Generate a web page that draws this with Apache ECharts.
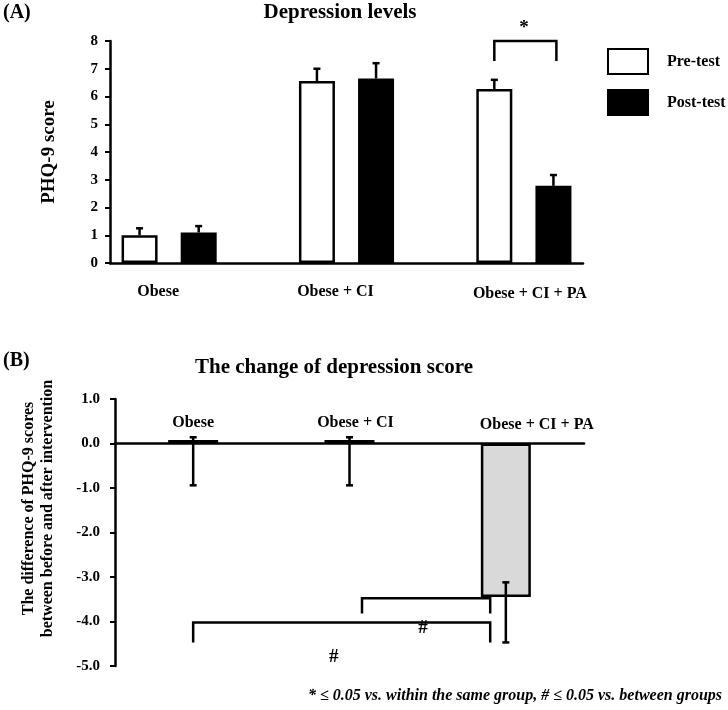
<!DOCTYPE html>
<html>
<head>
<meta charset="utf-8">
<script src="https://cdn.jsdelivr.net/npm/echarts@6/dist/echarts.min.js"></script>
<style>
  html, body { margin: 0; padding: 0; background: #fff; }
  #chart { width: 728px; height: 710px; }
</style>
</head>
<body>
<div id="chart"></div>
<script>
// panel A: PHQ-9 score, pre vs post
var groups = ['Obese', 'Obese + CI', 'Obese + CI + PA'];
var preMean = [1.0, 6.56, 6.27];
var preErrTop = [1.25, 7.0, 6.6];
var postMean = [1.1, 6.65, 2.78];
var postErrTop = [1.33, 7.2, 3.17];
var yTicksA = { min: 0, max: 8, step: 1 };
// significance bracket (pre/post of group 3) with star
var starBracket = [[6.5, 7.55, 8.0, 7.28, 7, 8.45, '*']];

// panel B: change of score
var diffMean = [0.08, 0.08, -3.45];
var diffLow = [-0.94, -0.94, -4.47];
var diffHigh = [0.14, 0.14, -3.12];
var yTicksB = { min: -5, max: 1, step: 1 };
// between-group brackets: x1, x2, top, bottom, labelX, labelY, label
var hashBrackets = [
  [1.08, 1.9, -3.48, -3.82, 1.47, -4.14, '#'],
  [0, 1.9, -4.02, -4.47, 0.9, -4.79, '#']
];

var FONT = 'Liberation Serif';
var chart = echarts.init(document.getElementById('chart'));

function errUp(params, api) {
  var x = api.value(0);
  var base = api.coord([x, api.value(1)]);
  var top = api.coord([x, api.value(2)]);
  var st = { stroke: '#000', lineWidth: 2.5 };
  return {
    type: 'group',
    children: [
      { type: 'line', shape: { x1: top[0], y1: base[1], x2: top[0], y2: top[1] }, style: st },
      { type: 'line', shape: { x1: top[0] - 3.5, y1: top[1], x2: top[0] + 3.5, y2: top[1] }, style: st }
    ]
  };
}

function errBoth(params, api) {
  var x = api.value(0);
  var lo = api.coord([x, api.value(1)]);
  var hi = api.coord([x, api.value(2)]);
  var st = { stroke: '#000', lineWidth: 2.5 };
  return {
    type: 'group',
    children: [
      { type: 'line', shape: { x1: lo[0], y1: lo[1], x2: hi[0], y2: hi[1] }, style: st },
      { type: 'line', shape: { x1: lo[0] - 3.5, y1: lo[1], x2: lo[0] + 3.5, y2: lo[1] }, style: st },
      { type: 'line', shape: { x1: hi[0] - 3.5, y1: hi[1], x2: hi[0] + 3.5, y2: hi[1] }, style: st }
    ]
  };
}

function bracket(params, api) {
  var a = api.coord([api.value(0), api.value(2)]);
  var b = api.coord([api.value(1), api.value(3)]);
  var t = api.coord([api.value(4), api.value(5)]);
  return {
    type: 'group',
    children: [
      {
        type: 'polyline',
        shape: { points: [[a[0], b[1]], [a[0], a[1]], [b[0], a[1]], [b[0], b[1]]] },
        style: { stroke: '#000', lineWidth: 2.5, fill: null }
      },
      {
        type: 'text',
        x: t[0], y: t[1],
        style: {
          text: String(api.value(6)),
          font: 'bold 19px ' + FONT,
          fill: '#000', align: 'center', verticalAlign: 'middle'
        }
      }
    ]
  };
}

// group names above the zero line in panel B (slight hand offsets like the original)
var labelNudgeB = [[0, -21], [6, -21], [31, -19]];
function groupLabel(params, api) {
  var p = api.coord([api.value(0), api.value(1)]);
  var n = labelNudgeB[params.dataIndex];
  return {
    type: 'text',
    x: p[0] + n[0], y: p[1] + n[1],
    style: {
      text: groups[params.dataIndex],
      font: 'bold 16px ' + FONT,
      fill: '#000', align: 'center', verticalAlign: 'middle'
    }
  };
}

var labelShiftA = [
  '{a|' + groups[0] + '}',
  '{a|' + groups[1] + '}',
  '{c|' + groups[2] + '}'
];

var boldLabel = { fontFamily: FONT, fontWeight: 'bold', fontSize: 16, color: '#000' };

chart.setOption({
  backgroundColor: '#fff',
  animation: false,
  title: [
    { text: '(A)', left: 3, top: 3, padding: 0, textStyle: { fontFamily: FONT, fontWeight: 'bold', fontSize: 20, color: '#000' } },
    { text: 'Depression levels', left: 340, top: 2, padding: 0, textAlign: 'center', textStyle: { fontFamily: FONT, fontWeight: 'bold', fontSize: 21, color: '#000' } },
    { text: '(B)', left: 3, top: 351, padding: 0, textStyle: { fontFamily: FONT, fontWeight: 'bold', fontSize: 20, color: '#000' } },
    { text: 'The change of depression score', left: 334, top: 357, padding: 0, textAlign: 'center', textStyle: { fontFamily: FONT, fontWeight: 'bold', fontSize: 21, color: '#000' } },
    { text: '* \u2264 0.05 vs. within the same group, # \u2264 0.05 vs. between groups', right: 6, top: 688, padding: 0, textStyle: { fontFamily: FONT, fontWeight: 'bold', fontStyle: 'italic', fontSize: 16, color: '#000' } }
  ],
  legend: {
    orient: 'vertical',
    left: 602, top: 43,
    itemWidth: 40, itemHeight: 25, itemGap: 14,
    icon: 'rect',
    data: ['Pre-test', 'Post-test'],
    textStyle: { fontFamily: FONT, fontWeight: 'bold', fontSize: 16, color: '#000', padding: [0, 0, 0, 14] }
  },
  grid: [
    { left: 110, top: 41, width: 473, height: 222, outerBoundsMode: 'none' },
    { left: 115, top: 399, width: 469, height: 267, outerBoundsMode: 'none' }
  ],
  xAxis: [
    {
      gridIndex: 0, type: 'value', min: 0, max: 8,
      axisLine: { show: true, onZero: false, lineStyle: { color: '#000', width: 2.5 } },
      axisTick: { show: false },
      splitLine: { show: false },
      axisLabel: {
        customValues: [1, 4, 7],
        margin: 21,
        formatter: function (v) { return labelShiftA[Math.round((v - 1) / 3)]; },
        rich: {
          a: Object.assign({ padding: [0, 22, 0, 0] }, boldLabel),
          c: Object.assign({ padding: [2, 0, 0, 12] }, boldLabel)
        }
      }
    },
    {
      gridIndex: 1, type: 'category', data: groups,
      axisLine: { show: true, onZero: true, lineStyle: { color: '#000', width: 2.5 } },
      axisTick: { show: false },
      axisLabel: { show: false }
    },
    { gridIndex: 1, type: 'value', min: -0.5, max: 2.5, show: false }
  ],
  yAxis: [
    {
      gridIndex: 0, type: 'value', min: yTicksA.min, max: yTicksA.max, interval: yTicksA.step,
      name: 'PHQ-9 score', nameLocation: 'middle', nameGap: 51,
      nameTextStyle: { fontFamily: FONT, fontWeight: 'bold', fontSize: 19, color: '#000' },
      axisLine: { show: true, onZero: false, lineStyle: { color: '#000', width: 2.5 } },
      axisTick: { show: true, length: 5, lineStyle: { color: '#000', width: 2 } },
      splitLine: { show: false },
      axisLabel: { fontFamily: FONT, fontWeight: 'bold', fontSize: 15, color: '#000', margin: 12 }
    },
    {
      gridIndex: 1, type: 'value', min: yTicksB.min, max: yTicksB.max, interval: yTicksB.step,
      name: 'The difference of PHQ-9 scores\nbetween before and after intervention',
      nameLocation: 'middle', nameGap: 58,
      nameTextStyle: { fontFamily: FONT, fontWeight: 'bold', fontSize: 16, color: '#000', lineHeight: 19, padding: [0, 0, 0, 48] },
      axisLine: { show: true, onZero: false, lineStyle: { color: '#000', width: 2.5 } },
      axisTick: { show: true, length: 5, lineStyle: { color: '#000', width: 2 } },
      splitLine: { show: false },
      axisLabel: {
        fontFamily: FONT, fontWeight: 'bold', fontSize: 15, color: '#000', margin: 15,
        formatter: function (v) { return v.toFixed(1); }
      }
    }
  ],
  series: [
    {
      name: 'Pre-test', type: 'bar', xAxisIndex: 0, yAxisIndex: 0,
      barWidth: 36, barGap: '-100%',
      itemStyle: { color: '#fff', borderColor: '#000', borderWidth: 2.5 },
      data: preMean.map(function (v, i) { return [3 * i + 0.5, v]; })
    },
    {
      name: 'Post-test', type: 'bar', xAxisIndex: 0, yAxisIndex: 0,
      barWidth: 36, barGap: '-100%',
      itemStyle: { color: '#000', borderColor: '#000', borderWidth: 2.5 },
      data: postMean.map(function (v, i) { return [3 * i + 1.5, v]; })
    },
    {
      type: 'custom', xAxisIndex: 0, yAxisIndex: 0, z: 5,
      renderItem: errUp,
      encode: { x: 0, y: [1, 2] },
      data: preMean.map(function (v, i) { return [3 * i + 0.5, v, preErrTop[i]]; })
        .concat(postMean.map(function (v, i) { return [3 * i + 1.5, v, postErrTop[i]]; }))
    },
    {
      type: 'custom', xAxisIndex: 0, yAxisIndex: 0, z: 5,
      renderItem: bracket,
      encode: { x: [0, 1], y: [2, 3] },
      data: starBracket
    },
    {
      name: 'Change', type: 'bar', xAxisIndex: 1, yAxisIndex: 1,
      barWidth: 50,
      itemStyle: { color: '#d9d9d9', borderColor: '#000', borderWidth: 2.5 },
      data: diffMean
    },
    {
      type: 'custom', xAxisIndex: 2, yAxisIndex: 1, z: 5,
      renderItem: errBoth,
      encode: { x: 0, y: [1, 2] },
      data: diffMean.map(function (v, i) { return [i, diffLow[i], diffHigh[i]]; })
    },
    {
      type: 'custom', xAxisIndex: 2, yAxisIndex: 1, z: 5,
      renderItem: bracket,
      encode: { x: [0, 1], y: [2, 3] },
      data: hashBrackets
    },
    {
      type: 'custom', xAxisIndex: 2, yAxisIndex: 1, z: 5,
      renderItem: groupLabel,
      encode: { x: 0, y: 1 },
      data: groups.map(function (g, i) { return [i, 0]; })
    }
  ]
});
</script>
</body>
</html>
